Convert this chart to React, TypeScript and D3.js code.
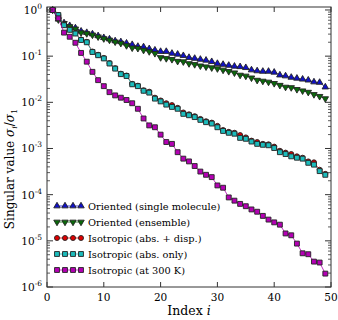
import React from "react";
import * as d3 from "d3";

const width = 338;
const height = 320;
const margin = { top: 7, right: 7, bottom: 33, left: 47 };

// singular values, stored as log10(sigma_i / sigma_1), i = 1..49
const indices = d3.range(1, 50);

const orientedSingle = [
  0, -0.2, -0.28, -0.34, -0.39, -0.46, -0.49, -0.52, -0.56, -0.6,
  -0.63, -0.67, -0.69, -0.72, -0.75, -0.79, -0.8, -0.84, -0.87, -0.9,
  -0.9, -0.94, -0.96, -0.99, -1.03, -1.05, -1.07, -1.09, -1.12, -1.16,
  -1.18, -1.2, -1.22, -1.23, -1.25, -1.3, -1.32, -1.33, -1.33, -1.35,
  -1.41, -1.43, -1.46, -1.48, -1.5, -1.52, -1.56, -1.57, -1.67,
];
const orientedEnsemble = [
  0, -0.21, -0.29, -0.36, -0.41, -0.49, -0.51, -0.54, -0.58, -0.62,
  -0.65, -0.69, -0.72, -0.77, -0.82, -0.83, -0.87, -0.9, -0.94, -1.03,
  -1.05, -1.07, -1.11, -1.12, -1.16, -1.18, -1.21, -1.23, -1.25, -1.27,
  -1.3, -1.33, -1.36, -1.41, -1.43, -1.47, -1.52, -1.54, -1.56, -1.59,
  -1.63, -1.67, -1.68, -1.72, -1.75, -1.78, -1.83, -1.87, -1.92,
];
const isoAbsDisp = [
  0, -0.11, -0.32, -0.42, -0.5, -0.64, -0.69, -0.9, -0.97, -1.04,
  -1.15, -1.26, -1.38, -1.42, -1.6, -1.64, -1.74, -1.77, -1.9, -1.96,
  -2.02, -2.06, -2.12, -2.22, -2.26, -2.3, -2.36, -2.41, -2.44, -2.51,
  -2.6, -2.64, -2.66, -2.71, -2.76, -2.83, -2.86, -2.9, -2.91, -2.96,
  -3.05, -3.09, -3.12, -3.17, -3.2, -3.28, -3.3, -3.46, -3.55,
];
const isoAbsOnly = [
  0, -0.11, -0.33, -0.43, -0.51, -0.65, -0.7, -0.91, -0.98, -1.05,
  -1.16, -1.27, -1.39, -1.43, -1.61, -1.65, -1.75, -1.79, -1.92, -1.98,
  -2.05, -2.1, -2.14, -2.25, -2.28, -2.32, -2.38, -2.43, -2.46, -2.54,
  -2.62, -2.66, -2.68, -2.77, -2.79, -2.85, -2.9, -2.92, -2.93, -2.99,
  -3.08, -3.12, -3.17, -3.2, -3.22, -3.31, -3.35, -3.49, -3.57,
];
const iso300K = [
  0, -0.18, -0.49, -0.58, -0.71, -0.93, -1.12, -1.34, -1.52, -1.65,
  -1.78, -1.85, -1.9, -1.95, -2.02, -2.14, -2.35, -2.5, -2.54, -2.7,
  -2.86, -2.9, -3.08, -3.22, -3.28, -3.38, -3.5, -3.57, -3.62, -3.8,
  -3.85, -4.06, -4.13, -4.2, -4.25, -4.32, -4.37, -4.46, -4.54, -4.6,
  -4.65, -4.84, -4.88, -5.06, -5.27, -5.29, -5.45, -5.47, -5.71,
];

const seriesNames = [
  "Oriented (single molecule)",
  "Oriented (ensemble)",
  "Isotropic (abs. + disp.)",
  "Isotropic (abs. only)",
  "Isotropic (at 300 K)",
];

const xTicks = [0, 10, 20, 30, 40, 50];
const yDecades = [0, -1, -2, -3, -4, -5, -6];

// Liberation Serif is not available here, DejaVu Serif is the serif we get
const font = "'DejaVu Serif', serif";

const series = [
  { name: seriesNames[0], values: orientedSingle, color: "#1010c8", shape: "up" },
  { name: seriesNames[1], values: orientedEnsemble, color: "#0a6a0a", shape: "down" },
  { name: seriesNames[2], values: isoAbsDisp, color: "#e00000", shape: "circle" },
  { name: seriesNames[3], values: isoAbsOnly, color: "#1cbcbc", shape: "square" },
  { name: seriesNames[4], values: iso300K, color: "#b400b4", shape: "square" },
];

const symbolPath = (shape: string) => {
  if (shape === "circle") return d3.symbol(d3.symbolCircle, 20)();
  if (shape === "square") return d3.symbol(d3.symbolSquare, 24)();
  return d3.symbol(d3.symbolTriangle, 18)();
};

const Marker = ({ x, y, shape, color }) => (
  <path
    d={symbolPath(shape) || ""}
    transform={`translate(${x},${y})${shape === "down" ? " rotate(180)" : ""}`}
    fill={color}
    stroke="#222"
    strokeWidth={0.9}
  />
);

const App = () => {
  const x = d3
    .scaleLinear()
    .domain([0, 50])
    .range([margin.left, width - margin.right]);
  const y = d3
    .scaleLog()
    .domain([1e-6, 1.16])
    .range([height - margin.bottom, margin.top]);

  const line = d3
    .line<number>()
    .x((_, i) => x(indices[i]))
    .y((v) => y(Math.pow(10, v)));

  const minorTicks: number[] = [];
  yDecades.slice(1).forEach((k) => {
    for (let m = 2; m <= 9; m++) minorTicks.push(m * Math.pow(10, k));
  });

  const x0 = margin.left;
  const x1 = width - margin.right;
  const y0 = height - margin.bottom;
  const y1 = margin.top;

  return (
    <svg
      width={width}
      height={height}
      style={{ position: "absolute", left: 0, top: 0, background: "#fff" }}
      fontFamily={font}
    >
      {/* series lines then markers */}
      {series.map((s) => (
        <g key={s.name}>
          <path d={line(s.values) || ""} fill="none" stroke={s.color} strokeWidth={0.8} />
          {s.values.map((v, i) => (
            <Marker key={i} x={x(indices[i])} y={y(Math.pow(10, v))} shape={s.shape} color={s.color} />
          ))}
        </g>
      ))}

      {/* frame */}
      <rect x={x0} y={y1} width={x1 - x0} height={y0 - y1} fill="none" stroke="#333" strokeWidth={1} />

      {/* x ticks, inward on bottom and top */}
      {xTicks.map((t) => (
        <g key={t}>
          <line x1={x(t)} x2={x(t)} y1={y0} y2={y0 - 5} stroke="#333" />
          <line x1={x(t)} x2={x(t)} y1={y1} y2={y1 + 5} stroke="#333" />
          <text x={x(t)} y={y0 + 14} textAnchor="middle" fontSize={10.5}>
            {t}
          </text>
        </g>
      ))}

      {/* y ticks */}
      {yDecades.map((k) => {
        const yy = y(Math.pow(10, k));
        return (
          <g key={k}>
            <line x1={x0} x2={x0 + 6} y1={yy} y2={yy} stroke="#333" />
            <line x1={x1} x2={x1 - 6} y1={yy} y2={yy} stroke="#333" />
            <text x={x0 - 5} y={yy + 4} textAnchor="end" fontSize={10.5}>
              10
              <tspan dy={-5} fontSize={7.5}>
                {k === 0 ? "0" : `-${-k}`}
              </tspan>
            </text>
          </g>
        );
      })}
      {minorTicks.map((t, i) => (
        <g key={i}>
          <line x1={x0} x2={x0 + 3} y1={y(t)} y2={y(t)} stroke="#333" strokeWidth={0.8} />
          <line x1={x1} x2={x1 - 3} y1={y(t)} y2={y(t)} stroke="#333" strokeWidth={0.8} />
        </g>
      ))}

      {/* axis titles */}
      <text x={(x0 + x1) / 2} y={height - 5} textAnchor="middle" fontSize={12.5}>
        Index <tspan fontStyle="italic">i</tspan>
      </text>
      <text transform={`translate(14,${169}) rotate(-90)`} textAnchor="middle" fontSize={12}>
        Singular value <tspan fontStyle="italic">σ</tspan>
        <tspan fontStyle="italic" fontSize={8} dy={3}>i</tspan>
        <tspan dy={-3}>/</tspan>
        <tspan fontStyle="italic">σ</tspan>
        <tspan fontSize={8} dy={3}>1</tspan>
      </text>

      {/* legend */}
      {series.map((s, k) => {
        const ly = 206 + k * 16;
        const mx = [57, 65, 73, 81];
        return (
          <g key={s.name}>
            <line x1={55} x2={83} y1={ly} y2={ly} stroke={s.color} strokeWidth={0.8} />
            {mx.map((m) => (
              <Marker key={m} x={m} y={ly} shape={s.shape} color={s.color} />
            ))}
            <text x={88} y={ly + 3.5} fontSize={9.8}>
              {s.name}
            </text>
          </g>
        );
      })}
    </svg>
  );
};

export default App;
